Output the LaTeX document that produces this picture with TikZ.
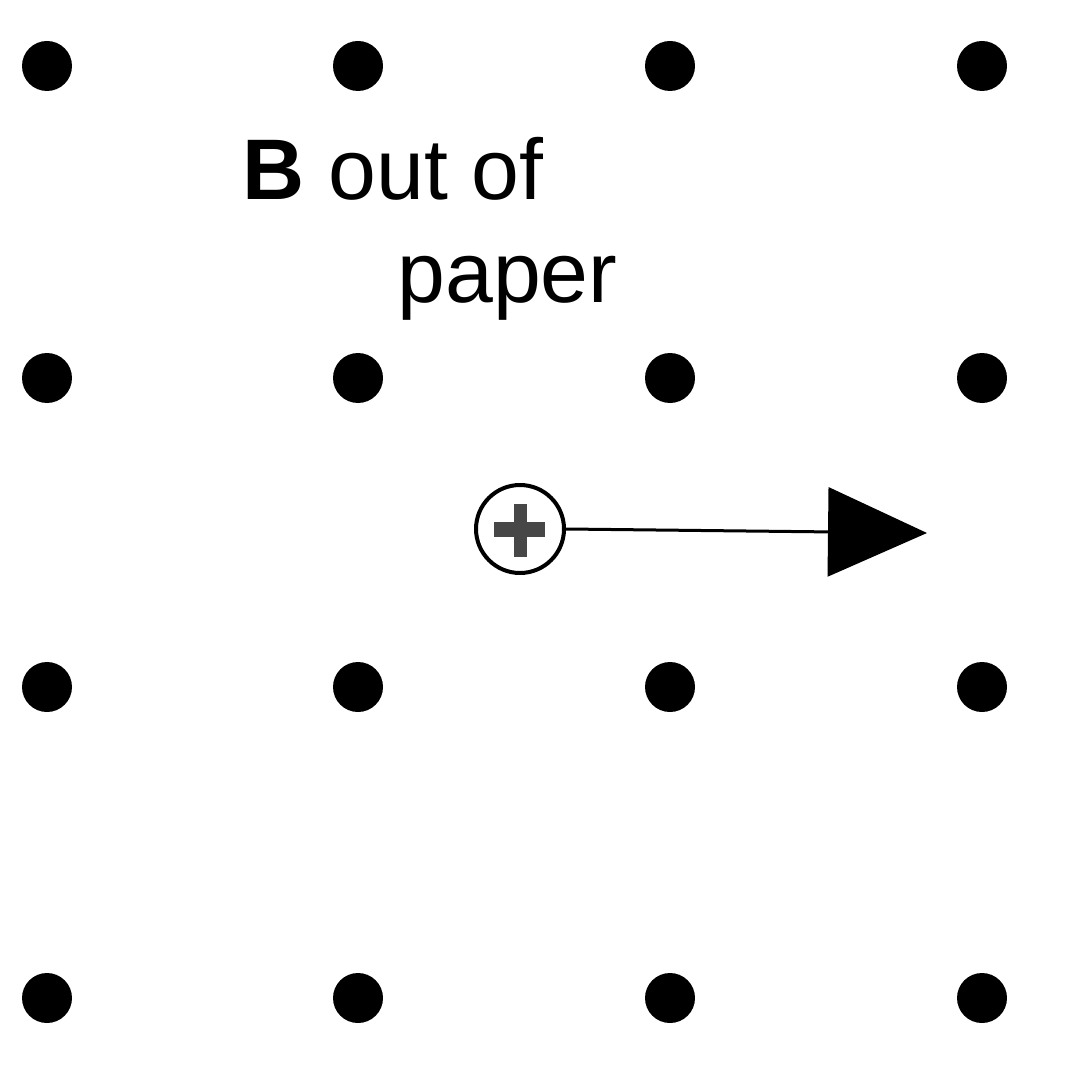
\documentclass[tikz,border=0pt]{standalone}
\usepackage{fontspec}
\setmainfont{Liberation Sans}
\usetikzlibrary{arrows.meta}
\begin{document}
\begin{tikzpicture}[x=0.5pt,y=-0.5pt,
  fielddot/.style={circle,fill=black,inner sep=0pt,minimum size=25pt},
  charge/.style={circle,draw=black,line width=2pt,fill=white,inner sep=0pt,minimum size=44pt,
    path picture={
      \fill[black!72] ([xshift=-13pt,yshift=3.5pt]path picture bounding box.center) rectangle ([xshift=12.5pt,yshift=-4pt]path picture bounding box.center);
      \fill[black!72] ([xshift=-3pt,yshift=12.5pt]path picture bounding box.center) rectangle ([xshift=3.5pt,yshift=-14pt]path picture bounding box.center);
    }},
  lbl/.style={font=\fontsize{43pt}{50pt}\selectfont,inner sep=0pt,anchor=base west}
]
\useasboundingbox (0,0) rectangle (1080,1080);
\fill[white] (0,0) rectangle (1080,1080);
\foreach \i/\x in {1/47,2/358,3/670,4/982}{
  \foreach \j/\y in {1/66,2/378,3/687,4/998}{
    \node[fielddot] (d\i\j) at (\x,\y) {};
  }
}
\node[lbl] (l1) at (242,200) {\textbf{B} out of};
\node[lbl] (l2) at (397,303) {paper};
\node[charge] (q) at (520,529) {};
\coordinate (tip) at (927,533);
\draw[line width=1.5pt,-{Triangle[length=49.5pt,width=44.5pt]}] (q.east) -- (tip);
\end{tikzpicture}
\end{document}
